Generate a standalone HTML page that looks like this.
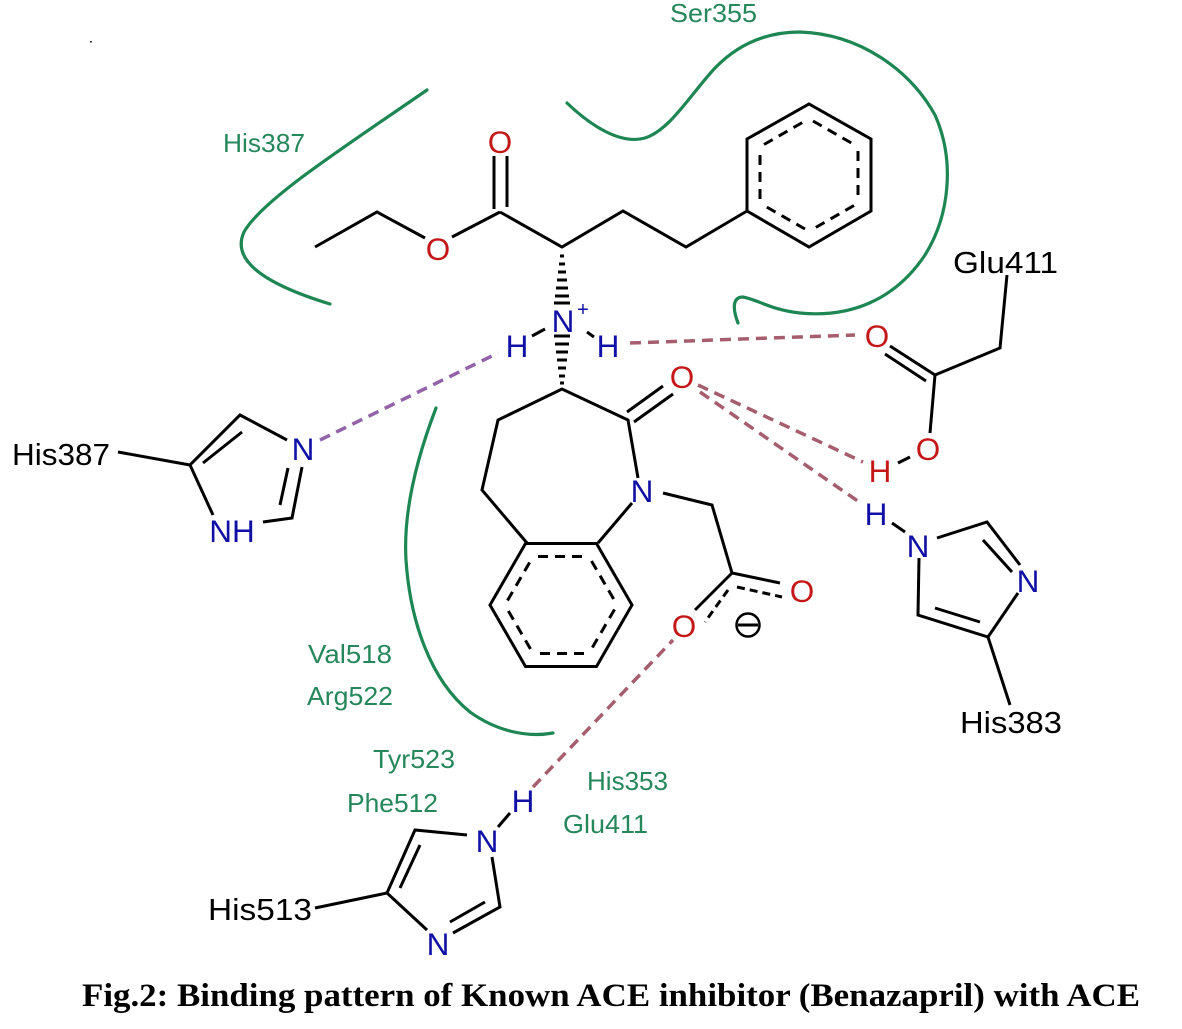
<!DOCTYPE html>
<html><head><meta charset="utf-8"><style>
html,body{margin:0;padding:0;background:#fff;}
svg{display:block;}
text{font-family:"Liberation Sans",Arial,sans-serif;}
.g{fill:#27875c;font-size:26px;}
.k{fill:#000;font-size:31px;}
.r{fill:#c41818;font-size:31.5px;}
.b{fill:#1010a6;font-size:31.5px;}
</style></head><body>
<svg width="1182" height="1029" viewBox="0 0 1182 1029" xmlns="http://www.w3.org/2000/svg">
<rect width="1182" height="1029" fill="#fff"/>
<rect x="90" y="41" width="2" height="1.5" fill="#333"/>

<!-- green contour curves -->
<g fill="none" stroke="#1d8653" stroke-width="3.2" stroke-linecap="round">
<path d="M427,90 C340,150 262,200 244,232 C232,258 258,282 330,304"/>
<path d="M567,103 C590,125 620,145 645,138 C670,130 690,95 715,68 C740,42 770,32 800,32 C860,34 910,70 935,115 C955,160 950,215 925,255 C895,300 850,318 800,313 C770,310 755,298 742,297 C732,298 733,310 738,323"/>
<path d="M436,408 C418,455 403,510 406,560 C410,620 430,680 470,712 C495,730 525,738 553,733"/>
</g>

<!-- black bonds -->
<g fill="none" stroke="#000" stroke-width="3" stroke-linejoin="miter" stroke-linecap="butt">
<polyline points="315,247 377,212 425,238"/>
<line x1="452" y1="237" x2="500" y2="212"/>
<line x1="494" y1="156" x2="494" y2="209"/>
<line x1="507" y1="156" x2="507" y2="207"/>
<polyline points="500,212 562,247 623,211 686,247 747,211"/>
<polygon points="747,211 747,139 809,104 871,139 871,211 809,247"/>
<polyline points="638,478 628,420 562,389 498,420 482,490 527,543"/>
<line x1="632" y1="503" x2="598" y2="543"/>
<line x1="627" y1="412" x2="663" y2="386"/>
<line x1="634" y1="422" x2="673" y2="394"/>
<polygon points="525.5,543.5 596.5,543.5 632,605 596.5,666.5 525.5,666.5 490,605"/>
<polyline points="663,493 712,505 732,573 780,583"/>
<line x1="732" y1="573" x2="695" y2="610"/>
<polyline points="1007,275 1000,348 935,375 930,433"/>
<line x1="890" y1="346" x2="935" y2="375"/>
<line x1="885" y1="354" x2="926" y2="381"/>
<line x1="898" y1="463" x2="910" y2="457"/>
<line x1="892" y1="523" x2="905" y2="532"/>
<polyline points="937,538 987,522 1020,565"/>
<line x1="983" y1="540" x2="1012" y2="572"/>
<polyline points="1018,593 988,637 918,615 919,558"/>
<line x1="980" y1="622" x2="935" y2="608"/>
<line x1="988" y1="637" x2="1010" y2="705"/>
<line x1="118" y1="452" x2="190" y2="465"/>
<polyline points="213,515 190,465 240,415 287,440"/>
<line x1="203" y1="463" x2="242" y2="432"/>
<polyline points="302,467 292,518 263,522"/>
<line x1="288" y1="468" x2="280" y2="505"/>
<line x1="315" y1="908" x2="387" y2="893"/>
<polyline points="467,835 415,830 387,893 427,930"/>
<line x1="420" y1="845" x2="400" y2="888"/>
<polyline points="453,933 500,907 492,857"/>
<line x1="450" y1="922" x2="485" y2="902"/>
<line x1="498" y1="827" x2="510" y2="813"/>
<line x1="532" y1="336" x2="545" y2="329"/>
<line x1="587" y1="332" x2="594" y2="337"/>
</g>

<!-- aromatic inner dashed lines -->
<g fill="none" stroke="#000" stroke-width="3" stroke-dasharray="10,7">
<line x1="813" y1="121" x2="854" y2="144.5"/>
<line x1="858" y1="151" x2="858" y2="199"/>
<line x1="854" y1="205.5" x2="813" y2="229"/>
<line x1="805" y1="229" x2="764" y2="205.5"/>
<line x1="760" y1="199" x2="760" y2="151"/>
<line x1="764" y1="144.5" x2="805" y2="121"/>

<line x1="538" y1="556.5" x2="584" y2="556.5"/>
<line x1="591.5" y1="561" x2="614.5" y2="600.5"/>
<line x1="614.5" y1="609.5" x2="591.5" y2="649"/>
<line x1="584" y1="653.5" x2="538" y2="653.5"/>
<line x1="530.5" y1="649" x2="507.5" y2="609.5"/>
<line x1="507.5" y1="600.5" x2="530.5" y2="561"/>
</g>
<g fill="none" stroke="#000" stroke-width="3" stroke-dasharray="8,5">
<line x1="737" y1="587" x2="782" y2="597"/>
<line x1="728" y1="590" x2="705" y2="622"/>
</g>

<!-- hashed wedges -->
<g stroke="#000" stroke-width="3">
<line x1="560" y1="256" x2="564" y2="256"/>
<line x1="559" y1="264" x2="565" y2="264"/>
<line x1="558" y1="272" x2="566" y2="272"/>
<line x1="557" y1="280" x2="567" y2="280"/>
<line x1="556" y1="288" x2="568" y2="288"/>
<line x1="555" y1="296" x2="569" y2="296"/>
<line x1="554" y1="303" x2="570" y2="303"/>

<line x1="554" y1="336" x2="570" y2="336"/>
<line x1="555" y1="344" x2="569" y2="344"/>
<line x1="556" y1="352" x2="568" y2="352"/>
<line x1="557" y1="360" x2="567" y2="360"/>
<line x1="558" y1="368" x2="566" y2="368"/>
<line x1="559" y1="376" x2="565" y2="376"/>
<line x1="560" y1="383" x2="564" y2="383"/>
</g>

<!-- H-bond dashed lines -->
<g fill="none" stroke-width="3.5" stroke-dasharray="11,7">
<line x1="320" y1="440" x2="498" y2="353" stroke="#9263a8"/>
<line x1="630" y1="343" x2="855" y2="335" stroke="#a65e6e"/>
<line x1="698" y1="385" x2="863" y2="462" stroke="#a65e6e"/>
<line x1="700" y1="392" x2="862" y2="504" stroke="#a65e6e"/>
<line x1="533" y1="787" x2="673" y2="640" stroke="#a65e6e"/>
</g>

<!-- minus charge -->
<circle cx="748" cy="625" r="11.5" fill="none" stroke="#000" stroke-width="2.5"/>
<line x1="738" y1="625" x2="758" y2="625" stroke="#000" stroke-width="3"/>

<!-- atom labels -->
<g text-anchor="middle">
<text class="r" x="500" y="153">O</text>
<text class="r" x="438" y="260">O</text>
<text class="b" x="563" y="332">N</text>
<text class="b" x="583" y="316" style="font-size:20px">+</text>
<text class="b" x="517" y="357">H</text>
<text class="b" x="608" y="357">H</text>
<text class="r" x="682" y="388">O</text>
<text class="b" x="642" y="502">N</text>
<text class="r" x="802" y="602">O</text>
<text class="r" x="684" y="637">O</text>
<text class="r" x="877" y="347">O</text>
<text class="r" x="928" y="460">O</text>
<text class="r" x="880" y="482">H</text>
<text class="b" x="876" y="525">H</text>
<text class="b" x="918" y="557">N</text>
<text class="b" x="1028" y="592">N</text>
<text class="b" x="303" y="460">N</text>
<text class="b" x="232" y="542">NH</text>
<text class="b" x="487" y="852">N</text>
<text class="b" x="438" y="955">N</text>
<text class="b" x="523" y="812">H</text>
</g>

<!-- residue labels black -->
<text class="k" x="953" y="273" textLength="105" lengthAdjust="spacingAndGlyphs">Glu411</text>
<text class="k" x="960" y="733" textLength="102" lengthAdjust="spacingAndGlyphs">His383</text>
<text class="k" x="12" y="465" textLength="98" lengthAdjust="spacingAndGlyphs">His387</text>
<text class="k" x="208" y="920" textLength="104" lengthAdjust="spacingAndGlyphs">His513</text>

<!-- residue labels green -->
<text class="g" x="670" y="22" textLength="87" lengthAdjust="spacingAndGlyphs">Ser355</text>
<text class="g" x="223" y="152" textLength="82" lengthAdjust="spacingAndGlyphs">His387</text>
<text class="g" x="308" y="663" textLength="84" lengthAdjust="spacingAndGlyphs">Val518</text>
<text class="g" x="307" y="705" textLength="86" lengthAdjust="spacingAndGlyphs">Arg522</text>
<text class="g" x="373" y="768" textLength="82" lengthAdjust="spacingAndGlyphs">Tyr523</text>
<text class="g" x="347" y="812" textLength="91" lengthAdjust="spacingAndGlyphs">Phe512</text>
<text class="g" x="587" y="790" textLength="81" lengthAdjust="spacingAndGlyphs">His353</text>
<text class="g" x="563" y="833" textLength="85" lengthAdjust="spacingAndGlyphs">Glu411</text>

<!-- caption -->
<text x="82" y="1006" textLength="1058" lengthAdjust="spacingAndGlyphs" style="font-family:'Liberation Serif','Times New Roman',serif;font-weight:bold;font-size:33px;fill:#000">Fig.2: Binding pattern of Known ACE inhibitor (Benazapril) with ACE</text>
</svg>
</body></html>
